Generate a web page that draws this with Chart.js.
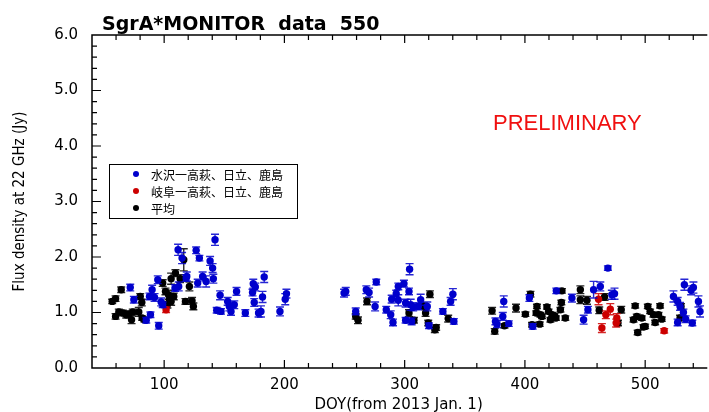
<!DOCTYPE html>
<html>
<head>
<meta charset="utf-8">
<script src="https://cdn.jsdelivr.net/npm/chart.js@4.4.0/dist/chart.umd.min.js"></script>
<style>
html, body { margin: 0; padding: 0; background: #fff; }
</style>
</head>
<body>
<canvas id="myChart" width="709" height="412"></canvas>
<script>
// data  [DOY, flux (Jy), error]

// 水沢一高萩、日立、鹿島
const blueData = [
  [71.8, 1.45, 0.06], [74.8, 1.23, 0.06], [85.1, 0.86, 0.05], [88.6, 0.96, 0.05],
  [95.5, 0.76, 0.06], [87.8, 1.29, 0.06], [90.0, 1.41, 0.08], [92.0, 1.27, 0.07],
  [94.7, 1.59, 0.07], [97.5, 1.19, 0.07], [98.8, 1.14, 0.05], [109.0, 1.44, 0.06],
  [111.6, 2.13, 0.10], [114.9, 1.98, 0.10], [118.8, 1.65, 0.08], [112.1, 1.47, 0.08],
  [118.3, 1.62, 0.06], [126.6, 2.12, 0.06], [129.3, 1.98, 0.05], [127.9, 1.53, 0.07],
  [132.0, 1.65, 0.08], [134.9, 1.56, 0.10], [138.2, 1.93, 0.08], [140.3, 1.80, 0.08],
  [140.9, 1.61, 0.08], [142.3, 2.31, 0.10], [143.7, 1.04, 0.05], [147.3, 1.02, 0.05],
  [146.5, 1.31, 0.08], [152.8, 1.20, 0.07], [154.2, 1.11, 0.08], [155.6, 1.02, 0.07],
  [158.3, 1.14, 0.07], [160.2, 1.38, 0.07], [167.5, 0.99, 0.06], [174.1, 1.52, 0.08],
  [175.8, 1.46, 0.07], [173.5, 1.36, 0.06], [174.9, 1.18, 0.07], [178.5, 0.99, 0.07],
  [180.5, 1.02, 0.10], [183.2, 1.64, 0.10], [181.8, 1.28, 0.10], [196.3, 1.02, 0.08],
  [201.7, 1.34, 0.08], [200.7, 1.24, 0.10],
  [249.6, 1.35, 0.07], [251.0, 1.38, 0.07], [259.3, 1.02, 0.06], [268.1, 1.41, 0.07],
  [270.4, 1.36, 0.08], [275.4, 1.11, 0.08], [276.4, 1.55, 0.05], [284.7, 1.05, 0.06],
  [288.4, 0.96, 0.07], [290.3, 0.82, 0.06], [289.2, 1.24, 0.07], [293.0, 1.34, 0.06],
  [294.7, 1.47, 0.06], [294.7, 1.22, 0.10], [299.4, 1.52, 0.06], [300.8, 1.17, 0.07],
  [303.6, 1.38, 0.06], [304.1, 1.78, 0.10], [305.0, 1.14, 0.10], [307.1, 1.10, 0.07],
  [300.8, 0.86, 0.05], [305.8, 0.84, 0.06], [311.3, 1.11, 0.06], [313.3, 1.23, 0.10],
  [318.8, 1.11, 0.08], [320.2, 0.76, 0.05], [331.8, 1.02, 0.05], [338.2, 1.20, 0.07],
  [340.1, 1.33, 0.10], [340.9, 0.84, 0.05],
  [375.5, 0.84, 0.06], [376.8, 0.79, 0.06], [381.6, 0.93, 0.07], [382.4, 1.20, 0.10],
  [386.6, 0.80, 0.05], [403.7, 1.26, 0.06], [406.5, 0.75, 0.05], [426.1, 1.39, 0.05],
  [439.1, 1.26, 0.07], [448.8, 0.87, 0.08], [452.4, 1.05, 0.06], [457.1, 1.41, 0.15],
  [462.7, 1.47, 0.08], [469.0, 1.80, 0.04], [472.3, 1.32, 0.08], [474.5, 1.34, 0.10],
  [523.5, 1.29, 0.10], [527.0, 1.20, 0.07], [529.0, 1.11, 0.07], [531.8, 1.00, 0.06],
  [533.7, 0.88, 0.06], [532.6, 1.50, 0.10], [538.2, 1.40, 0.08], [540.1, 1.45, 0.10],
  [544.3, 1.20, 0.10], [545.6, 1.02, 0.10], [539.2, 0.81, 0.05], [527.0, 0.82, 0.06]
];

// 岐阜一高萩、日立、鹿島
const redData = [
  [101.6, 1.05, 0.05], [461.2, 1.24, 0.10], [467.3, 0.96, 0.07], [471.0, 1.06, 0.10],
  [464.0, 0.72, 0.08], [476.4, 0.90, 0.08], [475.9, 0.81, 0.07], [515.8, 0.67, 0.04]
];

// 平均
const blackData = [
  [56.8, 1.20, 0.04], [59.6, 1.25, 0.05], [64.3, 1.41, 0.05], [59.6, 0.93, 0.05],
  [62.3, 1.01, 0.05], [65.6, 0.99, 0.05], [68.5, 0.96, 0.06], [70.6, 0.97, 0.06],
  [72.9, 0.87, 0.07], [73.9, 1.01, 0.05], [78.9, 1.01, 0.08], [81.7, 0.90, 0.04],
  [83.7, 0.87, 0.04], [80.1, 1.29, 0.05], [81.4, 1.18, 0.06], [98.8, 1.53, 0.06],
  [101.1, 1.38, 0.06], [103.6, 1.32, 0.08], [105.8, 1.61, 0.10], [109.4, 1.71, 0.06],
  [107.1, 1.29, 0.05], [104.4, 1.23, 0.08], [102.7, 1.14, 0.06], [113.3, 1.61, 0.07],
  [116.3, 1.95, 0.20], [121.0, 1.47, 0.08], [117.7, 1.20, 0.05], [123.2, 1.21, 0.06],
  [124.3, 1.11, 0.06], [108.0, 1.29, 0.06], [105.8, 1.20, 0.07],
  [259.3, 0.93, 0.05], [261.2, 0.86, 0.06], [268.7, 1.20, 0.06], [303.6, 0.99, 0.06],
  [307.7, 0.86, 0.05], [315.2, 1.12, 0.05], [317.4, 0.99, 0.06], [321.0, 1.33, 0.06],
  [319.6, 0.81, 0.05], [326.2, 0.73, 0.05], [325.1, 0.69, 0.05], [336.2, 0.89, 0.06],
  [372.7, 1.03, 0.06], [374.9, 0.66, 0.05], [383.0, 0.76, 0.04], [392.6, 1.08, 0.07],
  [400.4, 0.97, 0.04], [404.6, 1.33, 0.05], [405.9, 0.78, 0.04], [410.0, 1.11, 0.04],
  [409.4, 0.99, 0.04], [412.9, 0.96, 0.04], [412.3, 0.79, 0.04], [414.2, 0.93, 0.04],
  [418.3, 1.10, 0.04], [419.7, 1.02, 0.04], [421.2, 0.87, 0.04], [422.5, 0.96, 0.04],
  [424.7, 0.94, 0.04], [425.8, 0.90, 0.04], [429.5, 1.05, 0.04], [430.3, 1.18, 0.04],
  [430.8, 1.39, 0.04], [433.6, 0.90, 0.04], [446.1, 1.41, 0.07], [446.1, 1.23, 0.07],
  [451.6, 1.22, 0.07], [461.8, 1.04, 0.06], [466.2, 1.28, 0.06], [477.4, 0.81, 0.05],
  [480.1, 1.05, 0.06], [490.3, 0.87, 0.04], [491.7, 1.12, 0.04], [493.0, 0.93, 0.04],
  [493.8, 0.64, 0.04], [497.2, 0.90, 0.04], [498.6, 0.74, 0.04], [500.0, 0.75, 0.04],
  [502.2, 1.11, 0.04], [504.1, 1.02, 0.04], [506.9, 0.96, 0.04], [508.3, 0.82, 0.04],
  [511.1, 0.96, 0.04], [512.4, 1.12, 0.04], [513.8, 0.88, 0.04], [529.8, 1.11, 0.05],
  [529.0, 0.90, 0.05]
];

const seriesLabels = ["水沢一高萩、日立、鹿島", "岐阜一高萩、日立、鹿島", "平均"];
const seriesColors = ["#0000cc", "#cc0000", "#000000"];

const xTicks = [100, 200, 300, 400, 500];
const xMinorStep = 20;
const yTicks = [0, 1, 2, 3, 4, 5, 6];
const yMinorStep = 0.2;

const chartTitle = "SgrA*MONITOR  data  550";
const stamp = "PRELIMINARY";


function createDataSet(label, rows, color) {
    return {
        label: label,
        data: rows.map(r => ({ x: r[0], y: r[1], e: r[2] })),
        backgroundColor: color,
        borderColor: color,
        borderWidth: 0,
        pointRadius: 3.7,
        pointHoverRadius: 3.7
    }
}

let dataSetBlue = createDataSet(seriesLabels[0], blueData, seriesColors[0]);
let dataSetRed = createDataSet(seriesLabels[1], redData, seriesColors[1]);
let dataSetBlack = createDataSet(seriesLabels[2], blackData, seriesColors[2]);


// error bars, drawn under each dataset's points
const errorBars = {
    id: 'errorBars',
    beforeDatasetDraw(chart, args) {
        const ds = chart.data.datasets[args.index];
        const ys = chart.scales.y;
        const c = chart.ctx;
        const a = chart.chartArea;
        c.save();
        c.beginPath();
        c.rect(a.left, a.top, a.right - a.left, a.bottom - a.top);
        c.clip();
        c.strokeStyle = ds.borderColor;
        c.globalAlpha = 0.85;
        c.lineWidth = 1.4;
        args.meta.data.forEach((pt, i) => {
            const d = ds.data[i];
            const top = ys.getPixelForValue(d.y + d.e);
            const bot = ys.getPixelForValue(d.y - d.e);
            c.beginPath();
            c.moveTo(pt.x, top); c.lineTo(pt.x, bot);
            c.moveTo(pt.x - 4, top); c.lineTo(pt.x + 4, top);
            c.moveTo(pt.x - 4, bot); c.lineTo(pt.x + 4, bot);
            c.stroke();
        });
        c.restore();
    }
};

// frame with inward ticks, title, legend box, stamp
const decorations = {
    id: 'decorations',
    afterDraw(chart) {
        const c = chart.ctx;
        const a = chart.chartArea;
        const xs = chart.scales.x, ys = chart.scales.y;
        c.save();
        c.strokeStyle = '#000';
        c.lineWidth = 1.5;
        c.beginPath();
        c.moveTo(a.right + 2, a.top); c.lineTo(a.left, a.top);
        c.lineTo(a.left, a.bottom); c.lineTo(a.right + 2, a.bottom);
        c.stroke();

        c.lineWidth = 1.2;
        c.beginPath();
        for (let v = xs.min; v <= xs.max; v += xMinorStep) {
            if (v === xs.min) continue;
            const px = xs.getPixelForValue(v);
            const len = xTicks.includes(v) ? 8 : 5;
            c.moveTo(px, a.bottom); c.lineTo(px, a.bottom - len);
            c.moveTo(px, a.top); c.lineTo(px, a.top + len);
        }
        for (let k = 1; k < Math.round(ys.max / yMinorStep); k++) {
            const v = k * yMinorStep;
            const py = ys.getPixelForValue(v);
            const major = Math.abs(v - Math.round(v)) < 1e-6;
            c.moveTo(a.left, py); c.lineTo(a.left + (major ? 9 : 5), py);
        }
        c.stroke();

        // title
        c.fillStyle = '#000';
        c.font = 'bold 19px "DejaVu Sans", sans-serif';
        c.textBaseline = 'alphabetic';
        c.textAlign = 'left';
        c.fillText(chartTitle, 102, 30);

        // stamp
        c.fillStyle = '#f01010';
        c.font = '22px "Liberation Sans", Arial, sans-serif';
        c.fillText(stamp, 493, 130);

        // legend box
        c.strokeStyle = '#000';
        c.lineWidth = 1;
        c.strokeRect(109.5, 164.5, 188, 54);
        const rows = [dataSetBlue, dataSetRed, dataSetBlack];
        rows.forEach((ds, i) => {
            const y = 175 + i * 17;
            c.fillStyle = ds.backgroundColor;
            c.beginPath();
            c.arc(136, y - 1, 3, 0, Math.PI * 2);
            c.fill();
            c.fillStyle = '#000';
            c.font = '12px "Noto Sans CJK JP", sans-serif';
            c.textBaseline = 'middle';
            c.fillText(ds.label, 151, y);
        });
        c.restore();
    }
};


const ctx = document.getElementById('myChart');

let chart1 = new Chart(ctx, {
    type: 'scatter',
    data: {
        datasets: [dataSetBlue, dataSetRed, dataSetBlack]
    },
    options: {
        responsive: false,
        animation: false,
        events: [],
        layout: { padding: { top: 35, left: 0, right: 0, bottom: 0 } },
        plugins: {
            legend: { display: false },
            tooltip: { enabled: false },
            title: { display: false }
        },
        scales: {
            x: {
                type: 'linear',
                min: 40,
                max: 550,
                grid: { display: false, drawTicks: false },
                border: { display: false },
                afterBuildTicks: s => { s.ticks = xTicks.map(v => ({ value: v })); },
                afterFit: s => { s.height = 44; },
                ticks: {
                    padding: 8,
                    maxRotation: 0,
                    color: '#000',
                    font: { family: '"DejaVu Sans", sans-serif', size: 15 }
                },
                title: {
                    display: true,
                    text: 'DOY(from 2013 Jan. 1)',
                    color: '#000',
                    padding: { top: 0, bottom: -2 },
                    font: { family: '"DejaVu Sans", sans-serif', size: 15 }
                }
            },
            y: {
                min: 0,
                max: 6,
                grid: { display: false, drawTicks: false },
                border: { display: false },
                afterBuildTicks: s => { s.ticks = yTicks.map(v => ({ value: v })); },
                afterFit: s => { s.width = 92; },
                ticks: {
                    padding: 14,
                    color: '#000',
                    callback: v => Number(v).toFixed(1),
                    font: { family: '"DejaVu Sans", sans-serif', size: 15 }
                },
                title: {
                    display: true,
                    text: 'Flux density at 22 GHz (Jy)',
                    color: '#000',
                    padding: { top: 11, bottom: 0 },
                    font: { family: '"Liberation Sans Narrow", "DejaVu Sans Condensed", sans-serif', size: 15 }
                }
            }
        }
    },
    plugins: [errorBars, decorations]
})
</script>
</body>
</html>
